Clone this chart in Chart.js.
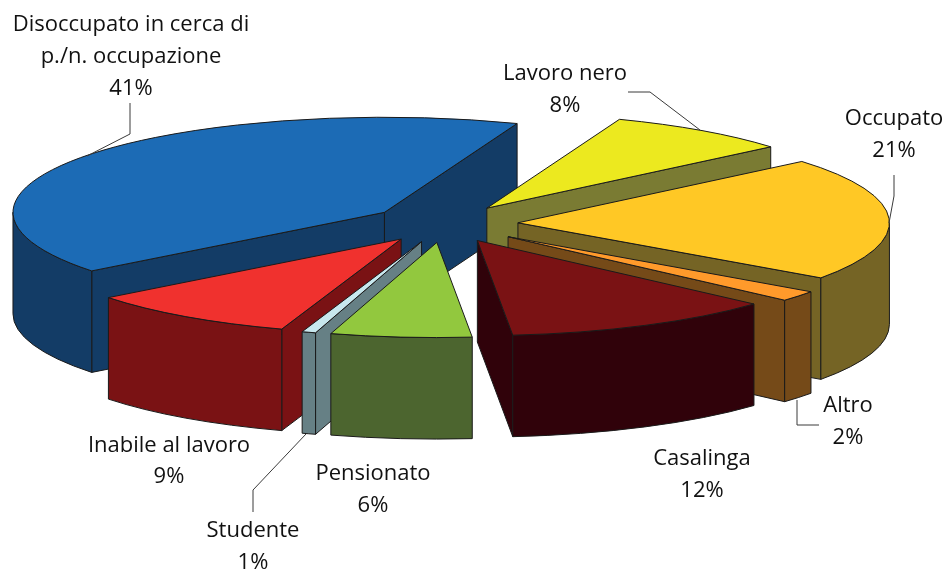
<!DOCTYPE html>
<html>
<head>
<meta charset="utf-8">
<style>html,body{margin:0;padding:0;background:#fff}canvas{display:block}</style>
<script src="https://cdn.jsdelivr.net/npm/chart.js@4"></script>
</head>
<body>
<canvas id="c" width="949" height="570"></canvas>
<script>
// Data
const categories = ['Disoccupato in cerca di p./n. occupazione','Lavoro nero','Occupato','Altro','Casalinga','Pensionato','Studente','Inabile al lavoro'];
const values = [41.2, 8.0, 20.9, 1.8, 11.8, 6.1, 0.6, 9.2];
const topColors = ['#1C6BB5','#ECE91F','#FFC825','#FF9A2B','#7A1214','#92C83E','#C8E8EE','#F0312E'];
const sideColors = ['#133C66','#7A7B33','#756425','#754A18','#30020A','#4C652F','#668085','#7A1214'];
// Presentation
const explode = [74,74,74,82,74,74,74,74];
const paintOrder = [0,1,2,3,7,4,6,5];
const START_ANGLE = 142;
const RADIUS = 371.5, SQUASH = 0.256, DEPTH = 101.5;
const CENTER = {x:444, y:223.6};
const FONT = '22px "Open Sans"';
const LINE_COLOR = '#1a1a1a';
const labelLayout = [
  {x:131, lines:[['Disoccupato in cerca di',31],['p./n. occupazione',63],['41%',95]]},
  {x:565, lines:[['Lavoro nero',80],['8%',112]]},
  {x:894, lines:[['Occupato',125],['21%',157]]},
  {x:848, lines:[['Altro',412],['2%',444]]},
  {x:702, lines:[['Casalinga',465],['12%',497]]},
  {x:373, lines:[['Pensionato',480],['6%',512]]},
  {x:253, lines:[['Studente',537],['1%',569]]},
  {x:169, lines:[['Inabile al lavoro',452],['9%',483]]}
];
const leaders = [
  [[130,103],[130,134],[87,156]],
  [[628,92],[650,92],[700,130]],
  [[894,175],[894,196],[889,223]],
  [[797,400],[797,425],[819,425]],
  [[306,434],[253,490],[253,512]]
];

const pie3d = {
  id:'pie3d',
  beforeDatasetDraw(chart, args){
    const ctx = chart.ctx, arcs = args.meta.data;
    const strokeStyle = () => {ctx.strokeStyle = LINE_COLOR; ctx.lineWidth = 1; ctx.lineJoin='round';};
    paintOrder.forEach(i=>{
      const arc = arcs[i];
      const a = arc.startAngle, b = arc.endAngle, mid = (a+b)/2, R = arc.outerRadius;
      const cx = CENTER.x + explode[i]*Math.cos(mid);
      const cy = CENTER.y + explode[i]*Math.sin(mid)*SQUASH;
      const px = t => cx + R*Math.cos(t), py = t => cy + R*SQUASH*Math.sin(t);
      const side = sideColors[i];
      const wall = t => {
        ctx.beginPath(); ctx.moveTo(cx,cy); ctx.lineTo(px(t),py(t));
        ctx.lineTo(px(t),py(t)+DEPTH); ctx.lineTo(cx,cy+DEPTH); ctx.closePath();
        ctx.fillStyle = side; ctx.fill(); strokeStyle(); ctx.stroke();
      };
      if (Math.cos(a) < 0) wall(a);
      if (Math.cos(b) > 0) wall(b);
      // outer rim: only the part facing the viewer
      const TAU = Math.PI*2;
      for (let k=-1;k<=1;k++){
        const s = Math.max(a, k*TAU), e = Math.min(b, k*TAU+Math.PI);
        if (e > s){
          ctx.beginPath();
          ctx.ellipse(cx,cy,R,R*SQUASH,0,s,e);
          ctx.ellipse(cx,cy+DEPTH,R,R*SQUASH,0,e,s,true);
          ctx.closePath();
          ctx.fillStyle = side; ctx.fill(); strokeStyle(); ctx.stroke();
        }
      }
      // top face: the library's own arc element under a squashing transform
      ctx.save();
      ctx.translate(cx,cy); ctx.scale(1,SQUASH); ctx.translate(-arc.x,-arc.y);
      arc.draw(ctx, chart.chartArea);
      ctx.restore();
      ctx.beginPath(); ctx.moveTo(cx,cy); ctx.ellipse(cx,cy,R,R*SQUASH,0,a,b); ctx.closePath();
      strokeStyle(); ctx.stroke();
    });
    return false;
  },
  afterDraw(chart){
    const ctx = chart.ctx;
    ctx.save();
    ctx.strokeStyle = '#3a3a3a'; ctx.lineWidth = 1;
    leaders.forEach(l=>{ctx.beginPath(); l.forEach((p,i)=> i?ctx.lineTo(p[0],p[1]):ctx.moveTo(p[0],p[1])); ctx.stroke();});
    ctx.fillStyle = '#111'; ctx.font = FONT; ctx.textAlign='center'; ctx.textBaseline='alphabetic';
    labelLayout.forEach(g=>g.lines.forEach(([t,y])=>ctx.fillText(t,g.x,y)));
    ctx.restore();
  }
};

new Chart(document.getElementById('c'),{
  type:'pie',
  plugins:[pie3d],
  data:{labels:categories,datasets:[{data:values,backgroundColor:topColors,borderWidth:0,radius:RADIUS,clip:false}]},
  options:{
    responsive:false,animation:false,events:[],rotation:START_ANGLE+90,
    layout:{padding:0},
    plugins:{legend:{display:false},tooltip:{enabled:false},title:{display:false}}
  }
});
</script>
</body>
</html>
